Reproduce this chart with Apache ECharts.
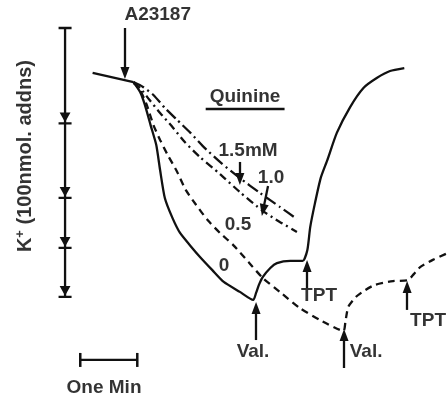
<!DOCTYPE html>
<html>
<head>
<meta charset="utf-8">
<script src="https://cdn.jsdelivr.net/npm/echarts@6/dist/echarts.min.js"></script>
<style>
  html, body { margin: 0; padding: 0; background: #fff; }
  #chart { width: 448px; height: 398px; }
</style>
</head>
<body>
<div id="chart"></div>
<script>
// time in seconds after A23187, K+ signal in % of the calibration scale
const baseline = [[-32, 83.3], [11, 79.9]]

// no quinine, then valinomycin at ~137 s and TPT at ~189 s
const quinine0 = [
  [11, 79.9], [18, 76.2], [23, 71.4], [29, 63.9], [35, 56.5], [39, 47.2], [44, 36.8],
  [52, 29.4], [60, 23.8], [71, 19.0], [81, 14.9], [94, 10.0], [106, 5.6], [123, 1.9],
  [137, -1.1], [140, 1.5], [143, 4.5], [147, 7.4], [155, 10.8], [162, 12.6], [176, 13.4],
  [189, 13.4], [194, 17.5], [197, 26.0], [202, 34.9], [208, 44.2], [215, 50.9],
  [225, 61.0], [239, 70.6], [253, 77.7], [267, 81.4], [281, 84.0], [296, 85.1]
]

const quinine05 = [
  [11, 79.9], [18, 76.9], [25, 71.4], [32, 63.9], [39, 58.4], [47, 52.8], [57, 46.5],
  [66, 39.8], [77, 34.2], [89, 28.6], [102, 23.8], [116, 19.3], [132, 13.0], [147, 7.1],
  [165, 1.9], [186, -4.1], [207, -8.5], [232, -12.6], [234, -9.3], [237, -3.7],
  [245, 0], [255, 2.6], [265, 4.5], [284, 5.9], [300, 6.3], [306, 8.5], [313, 11.2],
  [326, 13.8], [342, 16.4]
]

const quinine10 = [
  [11, 79.5], [18, 77.7], [28, 73.2], [39, 68.4], [52, 63.2], [65, 57.6], [81, 52.0],
  [102, 45.7], [123, 39.0], [147, 32.0], [165, 27.9], [183, 24.2]
]

const quinine15 = [
  [11, 79.9], [21, 78.1], [32, 75.1], [44, 70.3], [57, 65.8], [71, 61.0], [84, 56.1],
  [102, 50.2], [123, 44.2], [144, 38.7], [165, 33.5], [183, 29.0]
]

// 100 nmol K+ calibration additions
const scaleTime = -61
const scaleSteps = [100, 64.5, 36.8, 18.2, 0]

const minuteBar = [[-45, -23.4], [15, -23.4]]

// arrows: [from, to]
const arrows = [
  [[2, 100], [2, 83.3]],
  [[123, 50.2], [123, 43.9]],
  [[152.6, 41.3], [147.4, 32.3]],
  [[140, -16], [140, -4.1]],
  [[193.7, 3.3], [193.7, 11.5]],
  [[232.6, -26.4], [232.6, -14.1]],
  [[299, -4.8], [299, 3.7]]
]
const quinineUnderline = [[87, 69.9], [170, 69.9]]

const notes = [
  { text: 'A23187', at: [36.5, 104.8] },
  { text: 'Quinine', at: [128.4, 74.3] },
  { text: '1.5mM', at: [131.6, 54.3] },
  { text: '1.0', at: [155.8, 44.2] },
  { text: '0.5', at: [121, 26.8] },
  { text: '0', at: [106.3, 11.5] },
  { text: 'TPT', at: [206.3, 0.4] },
  { text: 'Val.', at: [136.8, -20.4] },
  { text: 'Val.', at: [255.8, -20.4] },
  { text: 'TPT', at: [321, -8.9] },
  { text: 'One Min', at: [-20, -33.8] }
]
const yTitle = { at: [-103, 52.4] }

const font = { fontFamily: 'Liberation Sans', fontWeight: 'bold', color: '#000' }
const ink = '#111'

function trace(name, data, type) {
  return {
    name,
    type: 'line',
    data,
    smooth: 0.2,
    showSymbol: false,
    clip: false,
    silent: true,
    lineStyle: { color: ink, width: 2.3, type },
  }
}

const arrowHead = 'path://M0,0L10,0L5,9ZM-1,9L11,9L11,11L-1,11Z'

const chart = echarts.init(document.getElementById('chart'))
chart.setOption({
  animation: false,
  backgroundColor: '#fff',
  grid: { left: 9, right: 0, top: 1.1, bottom: 6.85 },
  xAxis: { type: 'value', min: -120, max: 342, show: false },
  yAxis: { type: 'value', min: -35, max: 110, show: false },
  series: [
    trace('baseline', baseline, 'solid'),
    trace('0', quinine0, 'solid'),
    trace('0.5', quinine05, [7, 5]),
    trace('1.0', quinine10, [8, 4, 2, 4]),
    trace('1.5', quinine15, [12, 4, 2, 4]),
    {
      name: 'scale',
      type: 'line',
      clip: false,
      silent: true,
      lineStyle: { color: ink, width: 2.3 },
      itemStyle: { color: ink },
      data: scaleSteps.map((v, i) => i === 0
        ? { value: [scaleTime, v], symbol: 'rect', symbolSize: [13, 2.5] }
        : { value: [scaleTime, v], symbol: arrowHead, symbolSize: [13, 12], symbolOffset: [0, -5] }),
      markLine: {
        silent: true,
        symbol: ['none', 'triangle'],
        symbolSize: [9, 12],
        label: { show: false },
        lineStyle: { color: ink, width: 2.3, type: 'solid' },
        data: arrows.map(([a, b]) => [{ coord: a }, { coord: b }])
          .concat([[{ coord: quinineUnderline[0], symbol: 'none' }, { coord: quinineUnderline[1], symbol: 'none' }]]),
      },
    },
    {
      name: 'minute',
      type: 'line',
      clip: false,
      silent: true,
      data: minuteBar,
      symbol: 'rect',
      symbolSize: [2.5, 14],
      lineStyle: { color: ink, width: 2.3 },
      itemStyle: { color: ink },
    },
    {
      name: 'notes',
      type: 'scatter',
      clip: false,
      silent: true,
      symbolSize: 1,
      itemStyle: { color: 'transparent' },
      label: {
        show: true,
        position: 'inside',
        formatter: '{b}',
        fontSize: 19,
        ...font,
      },
      data: notes.map(n => ({ name: n.text, value: n.at })),
    },
    {
      name: 'ytitle',
      type: 'scatter',
      clip: false,
      silent: true,
      symbolSize: 1,
      itemStyle: { color: 'transparent' },
      label: {
        show: true,
        position: 'inside',
        rotate: 90,
        formatter: '{k|K}{s|+}{t| (100nmol. addns)}',
        rich: {
          k: { fontSize: 20, ...font },
          s: { fontSize: 13, ...font, padding: [0, 0, 10, 0] },
          t: { fontSize: 20, ...font },
        },
      },
      data: [{ value: yTitle.at }],
    },
  ],
})
</script>
</body>
</html>
